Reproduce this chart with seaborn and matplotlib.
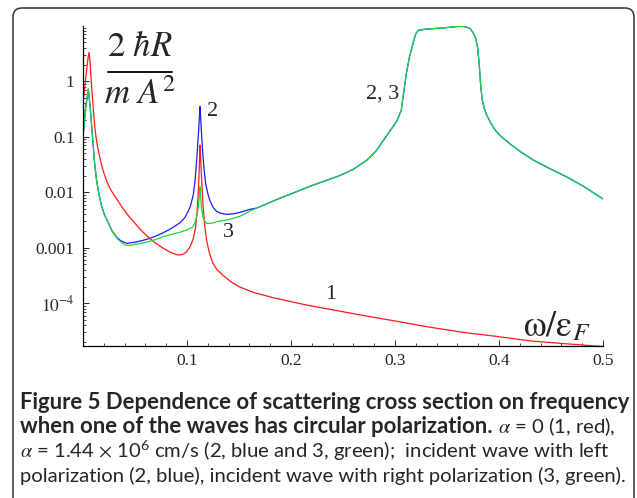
import numpy as np
import pandas as pd
import matplotlib
matplotlib.use("Agg")
import matplotlib.pyplot as plt
from matplotlib.patches import FancyBboxPatch
from matplotlib.lines import Line2D
from matplotlib.ticker import FixedLocator, LogLocator, NullFormatter, MultipleLocator
import seaborn as sns

# ---- data (omega / eps_F , 2 hbar R / (m A^2)) ----
# curve 1: alpha = 0 (red)
red_x = [0.0005, 0.002, 0.0035, 0.0048, 0.0058, 0.0068, 0.0083, 0.0100, 0.0115, 0.0125,
         0.014, 0.016, 0.018, 0.0205, 0.0228, 0.026, 0.0292, 0.034, 0.0388, 0.0435,
         0.0484, 0.055, 0.0628, 0.070, 0.0772, 0.085, 0.0917, 0.096, 0.0997, 0.103,
         0.106, 0.108, 0.1095, 0.111, 0.112, 0.1125, 0.113, 0.114, 0.1155, 0.117,
         0.119, 0.121, 0.123, 0.125, 0.129, 0.1346, 0.142, 0.151, 0.165, 0.183,
         0.200, 0.215, 0.247, 0.270, 0.300, 0.330, 0.365, 0.400, 0.430, 0.465, 0.500]
red_y = [0.50, 0.89, 1.58, 2.6, 3.3, 2.2, 0.79, 0.30, 0.141, 0.100,
         0.066, 0.044, 0.030, 0.021, 0.0158, 0.0117, 0.0093, 0.0068, 0.0050, 0.0038,
         0.0030, 0.00214, 0.00155, 0.00120, 0.00098, 0.00081, 0.00074, 0.00076, 0.00085, 0.00105,
         0.00145, 0.0022, 0.0040, 0.0112, 0.035, 0.071, 0.045, 0.018, 0.0056, 0.0025,
         0.00132, 0.00089, 0.00066, 0.00052, 0.00040, 0.00032, 0.000245, 0.000195, 0.000155, 0.000126,
         0.000107, 9.3e-5, 7.2e-5, 6.0e-5, 4.8e-5, 3.8e-5, 3.0e-5, 2.5e-5, 2.1e-5, 1.86e-5, 1.66e-5]

# curve 3: alpha = 1.44e6 cm/s, right polarization (green)
green_x = [0.0005, 0.0025, 0.0051, 0.007, 0.0093, 0.011, 0.013, 0.0155, 0.018, 0.021,
           0.0244, 0.028, 0.0324, 0.036, 0.040, 0.045, 0.050, 0.061, 0.070, 0.077,
           0.085, 0.093, 0.100, 0.106, 0.108, 0.1095, 0.111, 0.112, 0.1125, 0.113,
           0.114, 0.1155, 0.117, 0.119, 0.121, 0.125, 0.130, 0.140, 0.151, 0.160,
           0.167, 0.180, 0.190, 0.204, 0.220, 0.235, 0.247, 0.260, 0.273, 0.282,
           0.289, 0.295, 0.3016, 0.306, 0.308, 0.311, 0.314, 0.3176, 0.320, 0.3225,
           0.330, 0.345, 0.360, 0.365, 0.369, 0.372, 0.375, 0.3775, 0.3795, 0.381,
           0.3825, 0.384, 0.386, 0.388, 0.392, 0.396, 0.401, 0.410, 0.420, 0.433,
           0.450, 0.465, 0.480, 0.500]
green_y = [0.126, 0.33, 0.72, 0.33, 0.093, 0.036, 0.0166, 0.0089, 0.0055, 0.0038,
           0.0028, 0.0020, 0.0015, 0.0013, 0.00112, 0.00110, 0.00115, 0.00126, 0.00141, 0.00158,
           0.00174, 0.0019, 0.0021, 0.0024, 0.0030, 0.0038, 0.0056, 0.0089, 0.0126, 0.0089,
           0.0050, 0.0035, 0.0030, 0.00275, 0.00275, 0.0028, 0.0030, 0.0032, 0.0037, 0.0045,
           0.0052, 0.0066, 0.0079, 0.0100, 0.0132, 0.0166, 0.020, 0.026, 0.038, 0.056,
           0.087, 0.126, 0.19, 0.30, 0.56, 1.41, 2.8, 5.0, 7.2, 8.3,
           8.7, 9.1, 9.7, 9.8, 9.4, 8.9, 7.6, 6.0, 4.0, 2.0,
           0.79, 0.45, 0.32, 0.25, 0.178, 0.135, 0.105, 0.076, 0.055, 0.038,
           0.026, 0.019, 0.0132, 0.0076]

# curve 2: left polarization (blue), merges with curve 3 above ~0.165
blue_x = [0.0005, 0.0025, 0.0051, 0.007, 0.0093, 0.011, 0.013, 0.0155, 0.018, 0.021,
          0.0244, 0.028, 0.0324, 0.036, 0.042, 0.050, 0.061, 0.070, 0.077, 0.085,
          0.093, 0.098, 0.103, 0.106, 0.1077, 0.109, 0.110, 0.111, 0.112, 0.1125,
          0.113, 0.114, 0.115, 0.1165, 0.118, 0.120, 0.122, 0.125, 0.128, 0.132,
          0.138, 0.145, 0.152, 0.160]
blue_y = [0.126, 0.33, 0.72, 0.33, 0.093, 0.036, 0.0166, 0.0089, 0.0055, 0.0038,
          0.0028, 0.0020, 0.00155, 0.00135, 0.0012, 0.00126, 0.00141, 0.00162, 0.00186, 0.00224,
          0.0028, 0.0035, 0.0054, 0.0089, 0.0158, 0.032, 0.060, 0.112, 0.24, 0.35,
          0.24, 0.112, 0.056, 0.025, 0.0141, 0.0095, 0.0071, 0.0054, 0.0046, 0.0042,
          0.0040, 0.0041, 0.0044, 0.0049]
blue_tail_from = 0.165

x_ticks = [0.1, 0.2, 0.3, 0.4, 0.5]
y_ticks = [1e-4, 1e-3, 1e-2, 1e-1, 1]
y_ticklabels = [r"$10^{-4}$", "0.001", "0.01", "0.1", "1"]

# ---- build long table ----
bx = blue_x + [x for x in green_x if x >= blue_tail_from]
by = blue_y + [y for x, y in zip(green_x, green_y) if x >= blue_tail_from]
df = pd.concat([
    pd.DataFrame({"w": bx, "sigma": by, "curve": "2"}),
    pd.DataFrame({"w": red_x, "sigma": red_y, "curve": "1"}),
    pd.DataFrame({"w": green_x, "sigma": green_y, "curve": "3"}),
], ignore_index=True)

sns.set_style("ticks")
plt.rcParams["font.family"] = ["Liberation Serif", "DejaVu Serif"]
plt.rcParams["mathtext.fontset"] = "stix"

W, H = 637, 498
fig = plt.figure(figsize=(W / 100, H / 100), dpi=100)
ax = fig.add_axes([83 / W, 1 - 346 / H, 520 / W, 320 / H])

palette = {"1": "#ff1a1a", "2": "#1a1aff", "3": "#19d93a"}
sns.lineplot(data=df, x="w", y="sigma", hue="curve", palette=palette,
             linewidth=0.9, legend=False, ax=ax, estimator=None)

ax.set_yscale("log")
ax.set_xlim(0, 0.5)
ax.set_ylim(1.7e-5, 9.9)
ax.set_xlabel("")
ax.set_ylabel("")

ax.xaxis.set_major_locator(FixedLocator(x_ticks))
ax.set_xticklabels([f"{t:g}" for t in x_ticks])
ax.xaxis.set_minor_locator(MultipleLocator(0.02))
ax.yaxis.set_major_locator(FixedLocator(y_ticks))
ax.set_yticklabels(y_ticklabels)
ax.yaxis.set_minor_locator(LogLocator(base=10, subs=np.arange(2, 10)))
ax.yaxis.set_minor_formatter(NullFormatter())

ax.tick_params(which="major", direction="in", length=4, width=0.7, labelsize=12.5)
ax.tick_params(axis="x", which="major", pad=5)
ax.tick_params(axis="y", which="major", pad=6)
ax.tick_params(which="minor", direction="in", length=2, width=0.6)
for s in ["top", "right"]:
    ax.spines[s].set_visible(False)
for s in ["left", "bottom"]:
    ax.spines[s].set_linewidth(0.9)
    ax.spines[s].set_color("black")

# ---- annotations ----
fig.text(140 / W, 1 - 47 / H, r"$2\ \hbar R$", fontsize=25, ha="center", va="center")
fig.text(140 / W, 1 - 96 / H, r"$m\ A^2$", fontsize=25, ha="center", va="center")
fig.add_artist(Line2D([108 / W, 172 / W], [1 - 72 / H] * 2, color="black", linewidth=1.3))
ax.text(0.125, 0.28, "2", fontsize=16, ha="center", va="center")
ax.text(0.140, 0.0019, "3", fontsize=16, ha="center", va="center")
ax.text(0.238, 1.45e-4, "1", fontsize=16, ha="center", va="center")
ax.text(0.288, 0.59, "2, 3", fontsize=16, ha="center", va="center")
ax.text(0.455, 3.7e-5, r"$\mathrm{\omega}/\mathrm{\varepsilon}_F$", fontsize=26, ha="center", va="center")

# ---- frame ----
fig.patches.append(FancyBboxPatch((13, -30), 621, 490 + 30,
                                  boxstyle="round,pad=0,rounding_size=9",
                                  transform=None, fill=False, edgecolor="#333333",
                                  linewidth=1.1))

# ---- caption ----
cap_font = ["Lato", "DejaVu Sans"]
renderer = fig.canvas.get_renderer()

line1 = "Figure 5 Dependence of scattering cross section on frequency"
line2a = "when one of the waves has circular polarization."
line2b = r"$\alpha$ = 0 (1, red),"
line3 = r"$\alpha$ = 1.44 $\times$ 10$\mathregular{^6}$ cm/s (2, blue and 3, green);  incident wave with left"
line4 = "polarization (2, blue), incident wave with right polarization (3, green)."


def width_at(s, size, **kw):
    t = fig.text(0, 0, s, fontsize=size, family=cap_font, **kw)
    w = t.get_window_extent(renderer=renderer).width
    t.remove()
    return w


def put(xpx, ypx, s, size, **kw):
    t = fig.text(xpx / W, 1 - ypx / H, s, fontsize=size, va="baseline", ha="left",
                 family=cap_font, **kw)
    return t.get_window_extent(renderer=renderer).x1


fs_b = 13 * 608 / width_at(line1, 13, weight="bold")
fs_r = 13 * 606 / width_at(line4, 13)
fs_r = min(fs_r, 13 * 592 / width_at(line3, 13))

put(20, 409, line1, fs_b, weight="bold")
x = put(20, 433, line2a, fs_b, weight="bold")
put(x + 5, 433, line2b, fs_r)
put(20, 458, line3, fs_r)
put(20, 482, line4, fs_r)

fig.savefig("out.png", dpi=100)
